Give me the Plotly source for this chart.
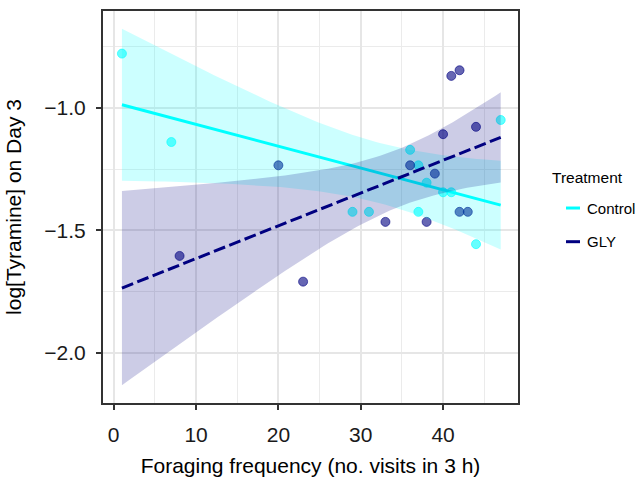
import numpy as np
import plotly.graph_objects as go

# ---- data ----
ctrl_x = [1, 7, 29, 31, 36, 37, 37, 38, 40, 41, 44, 47]
ctrl_y = [-0.778, -1.139, -1.424, -1.424, -1.171, -1.234, -1.424, -1.305,
          -1.344, -1.344, -1.556, -1.049]
gly_x = [8, 20, 23, 33, 36, 38, 39, 40, 41, 42, 42, 43, 44]
gly_y = [-1.604, -1.234, -1.709, -1.465, -1.234, -1.465, -1.268, -1.107,
         -0.869, -0.846, -1.424, -1.424, -1.077]
groups = ["Control", "GLY"]
x_ticks = [0, 10, 20, 30, 40]
y_ticks = [-2.0, -1.5, -1.0]

# 97.5% t quantiles by degrees of freedom
T975 = {19: 2.093024, 20: 2.085963, 21: 2.079614, 22: 2.073873}

CYAN = "rgb(0,255,255)"
NAVY = "rgb(0,0,128)"
FONT = "Liberation Sans, Arial, sans-serif"


def group_fit(x, y):
    x = np.asarray(x, float)
    y = np.asarray(y, float)
    mx, my = x.mean(), y.mean()
    sxx = ((x - mx) ** 2).sum()
    b = ((x - mx) * (y - my)).sum() / sxx
    a = my - b * mx
    rss = ((y - (a + b * x)) ** 2).sum()
    return dict(n=len(x), mx=mx, sxx=sxx, a=a, b=b, rss=rss)


# interaction model (separate slopes, pooled residual variance)
fc = group_fit(ctrl_x, ctrl_y)
fg = group_fit(gly_x, gly_y)
df_res = fc["n"] + fg["n"] - 4
s_pool = np.sqrt((fc["rss"] + fg["rss"]) / df_res)
tval = T975[df_res]

all_x = ctrl_x + gly_x
xs = np.linspace(min(all_x), max(all_x), 80)


def band(f):
    fit = f["a"] + f["b"] * xs
    se = s_pool * np.sqrt(1.0 / f["n"] + (xs - f["mx"]) ** 2 / f["sxx"])
    return fit, fit - tval * se, fit + tval * se


c_fit, c_lo, c_hi = band(fc)
g_fit, g_lo, g_hi = band(fg)

fig = go.Figure()

# points
fig.add_trace(go.Scatter(
    x=ctrl_x, y=ctrl_y, mode="markers", showlegend=False,
    marker=dict(size=9, color="rgba(0,255,255,0.6)",
                line=dict(color="rgba(0,255,255,0.6)", width=1))))
fig.add_trace(go.Scatter(
    x=gly_x, y=gly_y, mode="markers", showlegend=False,
    marker=dict(size=9, color="rgba(0,0,128,0.6)",
                line=dict(color="rgba(0,0,128,0.6)", width=1))))

# control smooth
fig.add_trace(go.Scatter(
    x=np.concatenate([xs, xs[::-1]]), y=np.concatenate([c_hi, c_lo[::-1]]),
    mode="lines", fill="toself", fillcolor="rgba(0,255,255,0.2)",
    line=dict(width=0), hoverinfo="skip", showlegend=False))
fig.add_trace(go.Scatter(
    x=xs, y=c_fit, mode="lines", name="Control", showlegend=False,
    line=dict(color=CYAN, width=3)))

# GLY smooth
fig.add_trace(go.Scatter(
    x=np.concatenate([xs, xs[::-1]]), y=np.concatenate([g_hi, g_lo[::-1]]),
    mode="lines", fill="toself", fillcolor="rgba(0,0,128,0.2)",
    line=dict(width=0), hoverinfo="skip", showlegend=False))
fig.add_trace(go.Scatter(
    x=xs, y=g_fit, mode="lines", name="GLY", showlegend=False,
    line=dict(color=NAVY, width=3, dash="12px,4.5px")))

# ranges (ggplot-like 5% expansion on y)
y_all = np.concatenate([ctrl_y, gly_y, c_lo, c_hi, g_lo, g_hi])
ylo, yhi = y_all.min(), y_all.max()
ypad = 0.05 * (yhi - ylo)

axis_common = dict(
    showline=True, mirror=True, linecolor="#333333", linewidth=2,
    ticks="outside", ticklen=5, tickwidth=2, tickcolor="#333333",
    showgrid=True, gridcolor="#E6E6E6", gridwidth=1.8, zeroline=False,
    automargin=False,
    tickfont=dict(family=FONT, size=21, color="#1a1a1a"),
)

fig.update_layout(
    width=636, height=477,
    margin=dict(l=103, r=118, t=11, b=74),
    paper_bgcolor="white", plot_bgcolor="white",
    font=dict(family=FONT, color="black"),
    showlegend=False,
    xaxis=dict(
        **axis_common,
        range=[-1.3, 49.1], tickvals=x_ticks, ticktext=[str(v) for v in x_ticks],
        ticklabelstandoff=7,
        minor=dict(dtick=5, tick0=0, showgrid=True, gridcolor="#EBEBEB",
                   gridwidth=1.2, ticklen=0),
        title=dict(text="Foraging frequency (no. visits in 3 h)",
                   font=dict(family=FONT, size=21, color="black"), standoff=14),
    ),
    yaxis=dict(
        **axis_common,
        range=[ylo - ypad, yhi + ypad], tickvals=y_ticks,
        ticktext=[f"\u2212{abs(v):.1f}" for v in y_ticks],
        ticklabelstandoff=6,
        minor=dict(dtick=0.25, tick0=0, showgrid=True, gridcolor="#EBEBEB",
                   gridwidth=1.2, ticklen=0),
        title=dict(text="log[Tyramine] on Day 3",
                   font=dict(family=FONT, size=21, color="black"), standoff=17),
    ),
)

# manual legend (ggplot style)
fig.add_annotation(x=1.078, y=0.5765, xref="paper", yref="paper",
                   text="Treatment", showarrow=False, xanchor="left",
                   yanchor="middle",
                   font=dict(family=FONT, size=15.5, color="black"))
leg_items = [(groups[0], CYAN, 0.4974), (groups[1], NAVY, 0.4115)]
for name, col, yp in leg_items:
    fig.add_shape(type="line", xref="paper", yref="paper",
                  x0=1.1157, x1=1.1494, y0=yp, y1=yp,
                  line=dict(color=col, width=3))
    fig.add_annotation(x=1.161, y=yp, xref="paper", yref="paper",
                       text=name, showarrow=False, xanchor="left",
                       yanchor="middle",
                       font=dict(family=FONT, size=15, color="black"))

fig.write_html("out.html")
